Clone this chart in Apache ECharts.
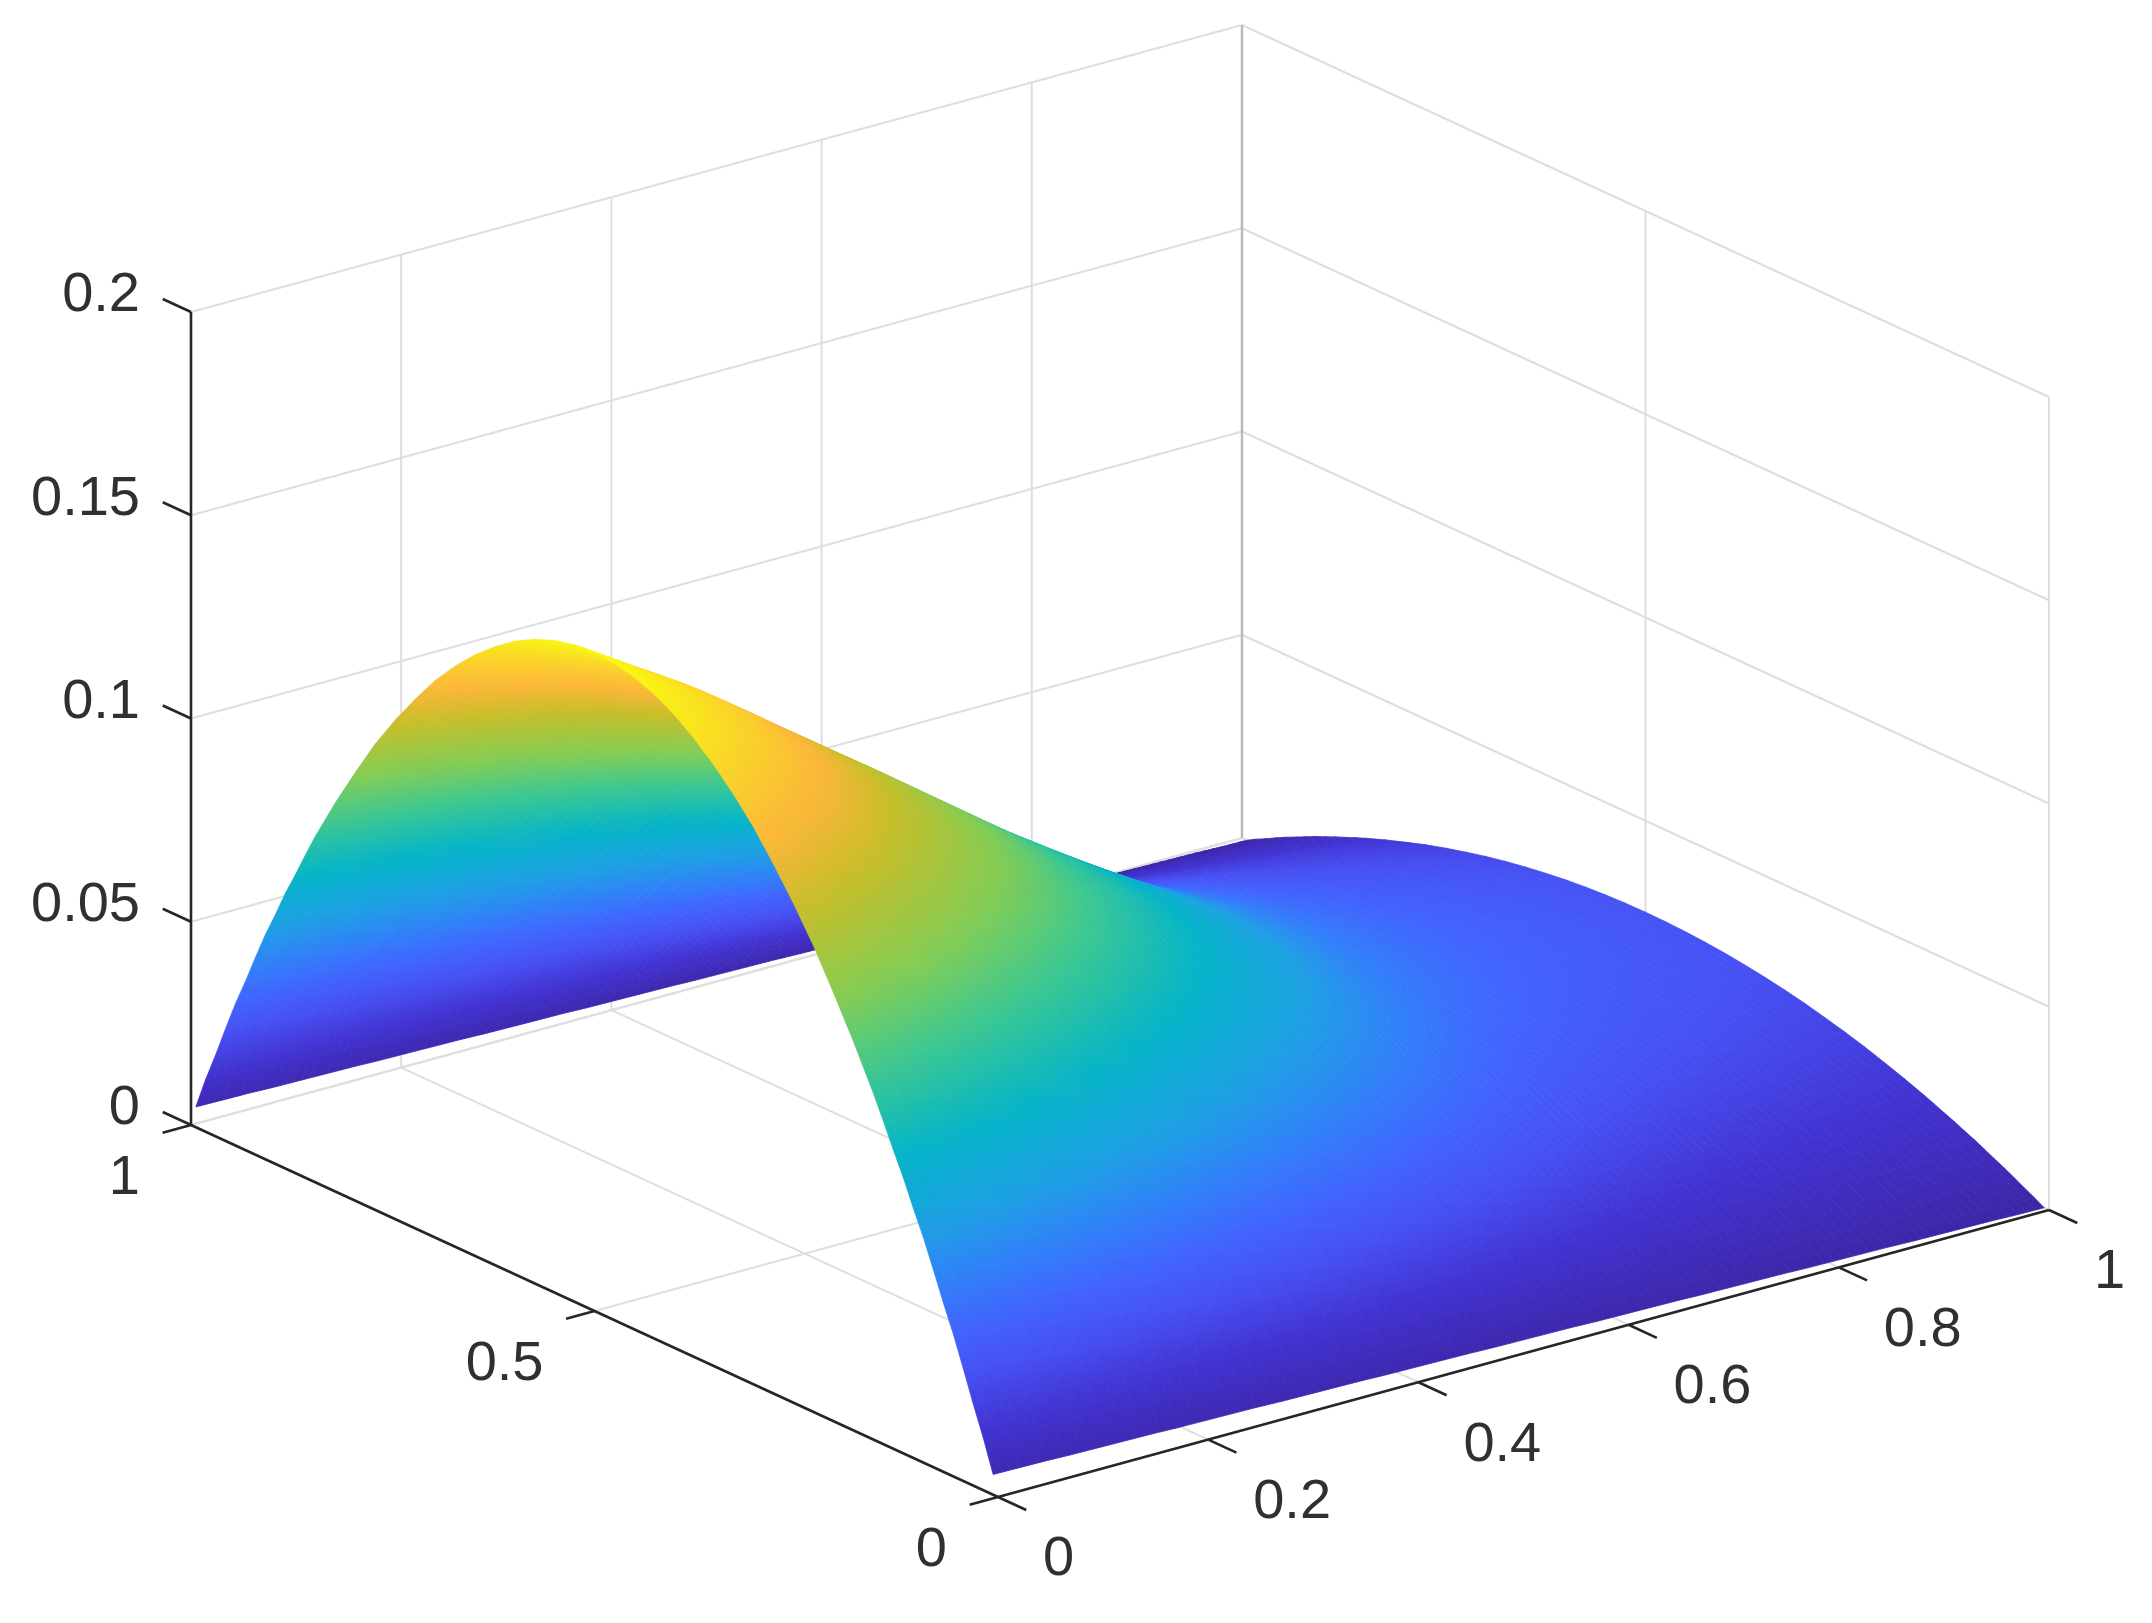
<!DOCTYPE html>
<html><head><meta charset="utf-8">
<style>html,body{margin:0;padding:0;background:#fff}#c{width:2152px;height:1623px;filter:blur(0.55px)}</style>
<script src="https://cdn.jsdelivr.net/npm/echarts@6/dist/echarts.min.js"></script>
</head><body><div id="c"></div>
<script>
// ---- tick labels ----
const xTicks = [0, 0.2, 0.4, 0.6, 0.8, 1];
const yTicks = [0, 0.5, 1];
const zTicks = [0, 0.05, 0.1, 0.15, 0.2];
// ---- surface samples ----
const xGrid = [0,.025,.05,.075,.1,.125,.15,.175,.2,.225,.25,.275,.3,.325,.35,.375,.4,.425,.45,.475,.5,.525,.55,.575,.6,.625,.65,.675,.7,.725,.75,.775,.8,.825,.85,.875,.9,.925,.95,.975,1];
const yGrid = [.006,.018,.031,.043,.055,.068,.08,.092,.105,.117,.13,.142,.154,.179,.204,.228,.253,.278,.302,.327,.352,.377,.401,.426,.451,.475,.5,.525,.549,.574,.599,.623,.648,.673,.698,.722,.747,.772,.796,.821,.846,.858,.87,.883,.895,.908,.92,.932,.945,.957,.969,.982,.994];
// height of the crest (largest z over y) at each x
const crestByX = [.162,.1579,.1538,.1498,.1457,.1411,.1364,.1316,.1269,.1222,.1175,.1128,.108,.1032,.0984,.0936,.0889,.0845,.0801,.0758,.0716,.0675,.0635,.0596,.0558,.0522,.049,.0461,.0436,.0414,.0395,.0378,.0363,.035,.0338,.0327,.0317,.0307,.0297,.0286,.0275];
// height of the y=0 and y=1 rims at each x
const rimByX = [.005,.0049,.0048,.0046,.0045,.0044,.0043,.0041,.004,.0039,.0038,.0036,.0035,.0034,.0033,.0031,.003,.0029,.0028,.0026,.0025,.0024,.0023,.0021,.002,.0019,.0018,.0016,.0015,.0014,.0013,.0011,.001,.0009,.0008,.0006,.0005,.0004,.0003,.0001,0];
// fraction of the way from rim to crest at each y
const archByY = [0,.0494,.0975,.1444,.19,.2344,.2775,.3194,.36,.3994,.4375,.4744,.51,.5775,.64,.6975,.75,.7975,.84,.8775,.91,.9375,.96,.9775,.99,.9975,1,.9975,.99,.9775,.96,.9375,.91,.8775,.84,.7975,.75,.6975,.64,.5775,.51,.4744,.4375,.3994,.36,.3194,.2775,.2344,.19,.1444,.0975,.0494,0];
// ---- colour map ----
const colorPos = [0,.09,.16,.22,.275,.352,.444,.55,.636,.75,.824,.9,1];
const colorRGB = [[60,38,165],[66,50,210],[71,80,243],[65,100,254],[50,125,250],[30,160,228],[3,180,200],[60,200,145],[130,205,85],[200,190,40],[253,182,58],[250,212,40],[249,251,15]];
const colorMax = 0.162;

// orthographic view of the plot box, on a plane axis that spans the page
const VIEW = {ox:998, oy:1497, xx:1051, xy:-287, yx:-807, yy:-372, zy:-4065};
const SHADE_STRIPS = 3;
function plane(x,y,z){return [VIEW.ox+VIEW.xx*x+VIEW.yx*y, VIEW.oy+VIEW.xy*x+VIEW.yy*y+VIEW.zy*z];}
const zMax = zTicks[zTicks.length-1];

function height(i,j){return rimByX[i]+(crestByX[i]-rimByX[i])*archByY[j];}
function colorAt(z){
  const t=Math.min(1,Math.max(0,z/colorMax));
  let k=0; while(k<colorPos.length-2 && t>colorPos[k+1]) k++;
  const f=(t-colorPos[k])/(colorPos[k+1]-colorPos[k]);
  const a=colorRGB[k],b=colorRGB[k+1];
  return 'rgb('+[0,1,2].map(n=>Math.round(a[n]+(b[n]-a[n])*f)).join(',')+')';
}
// far cells first: the camera looks from low x, low y
const cells=[];
for(let i=xGrid.length-2;i>=0;i--) for(let j=yGrid.length-2;j>=0;j--) cells.push([i,j]);

const gridSegs=[], axisSegs=[], labels=[];
xTicks.forEach(x=>{
  gridSegs.push([x,0,0,x,1,0]);
  if(x<1) gridSegs.push([x,1,0,x,1,zMax]);
  axisSegs.push([x,0,0,x,-0.035,0]);
  labels.push([String(x),x,0,0,45,63,'left']);
});
yTicks.forEach(y=>{
  gridSegs.push([0,y,0,1,y,0]);
  if(y<1) gridSegs.push([1,y,0,1,y,zMax]);
  axisSegs.push([0,y,0,-0.027,y,0]);
  labels.push([String(y),0,y,0,-51,54,'right']);
});
zTicks.forEach(z=>{
  gridSegs.push([0,1,z,1,1,z],[1,1,z,1,0,z]);
  axisSegs.push([0,1,z,0,1.035,z]);
  labels.push([String(z),0,1,z,-51,-16,'right']);
});
axisSegs.push([0,0,0,1,0,0],[0,0,0,0,1,0],[0,1,0,0,1,zMax]);

function segSeries(data,color,width,z){
  return {type:'custom',coordinateSystem:'cartesian2d',silent:true,z,clip:false,animation:false,data,
    encode:{x:0,y:1},
    renderItem(p,api){
      const d=data[p.dataIndex];
      const a=api.coord(plane(d[0],d[1],d[2])), b=api.coord(plane(d[3],d[4],d[5]));
      return {type:'line',shape:{x1:a[0],y1:a[1],x2:b[0],y2:b[1]},style:{stroke:color,lineWidth:width,lineCap:'butt'}};
    }};
}

const chart=echarts.init(document.getElementById('c'),null,{renderer:'canvas'});
chart.setOption({
  animation:false,backgroundColor:'#fff',
  grid:{left:0,right:0,top:0,bottom:0},
  xAxis:{type:'value',min:0,max:2152,show:false},
  yAxis:{type:'value',min:0,max:1623,inverse:true,show:false},
  series:[
    segSeries(gridSegs,'#dedede',2,1),
    segSeries([[1,1,0,1,1,zMax]],'#bababa',2.5,1),
    {type:'custom',coordinateSystem:'cartesian2d',silent:true,z:3,clip:false,animation:false,progressive:0,data:cells,
      encode:{x:0,y:1},
      renderItem(p,api){
        const [i,j]=cells[p.dataIndex];
        const P=(a,b)=>api.coord(plane(xGrid[a],yGrid[b],height(a,b)));
        const A=P(i,j),B=P(i+1,j),C=P(i+1,j+1),D=P(i,j+1);
        const mix=(a,b,f)=>[a[0]+(b[0]-a[0])*f,a[1]+(b[1]-a[1])*f];
        const children=[];
        for(let s=SHADE_STRIPS-1;s>=0;s--){
          const f0=s/SHADE_STRIPS,f1=(s+1)/SHADE_STRIPS,fm=(f0+f1)/2;
          const a=mix(A,B,f0),b=mix(A,B,f1),c=mix(D,C,f1),d=mix(D,C,f0);
          const m0=mix(A,B,fm),m1=mix(D,C,fm);
          const ex=b[0]-a[0],ey=b[1]-a[1],el=Math.hypot(ex,ey);
          const nx=-ey/el,ny=ex/el,t=(m1[0]-m0[0])*nx+(m1[1]-m0[1])*ny;
          const z0=height(i,j)+(height(i+1,j)-height(i,j))*fm;
          const z1=height(i,j+1)+(height(i+1,j+1)-height(i,j+1))*fm;
          const fill=Math.abs(t)<0.05?colorAt((z0+z1)/2)
            :new echarts.graphic.LinearGradient(m0[0],m0[1],m0[0]+nx*t,m0[1]+ny*t,[{offset:0,color:colorAt(z0)},{offset:1,color:colorAt(z1)}],true);
          children.push({type:'polygon',shape:{points:[a,b,c,d]},style:{fill,stroke:fill,lineWidth:0.8}});
        }
        return {type:'group',children};
      }},
    segSeries(axisSegs,'#262626',2.6,4),
    {type:'custom',coordinateSystem:'cartesian2d',silent:true,z:5,clip:false,animation:false,data:labels,
      encode:{x:1,y:2},
      renderItem(p,api){
        const d=labels[p.dataIndex];
        const c=api.coord(plane(d[1],d[2],d[3]));
        return {type:'text',style:{x:c[0]+d[4],y:c[1]+d[5],text:d[0],fill:'#303030',font:'56px "Liberation Sans", Arial, sans-serif',textAlign:d[6],textVerticalAlign:'middle'}};
      }}
  ]
});
</script></body></html>
